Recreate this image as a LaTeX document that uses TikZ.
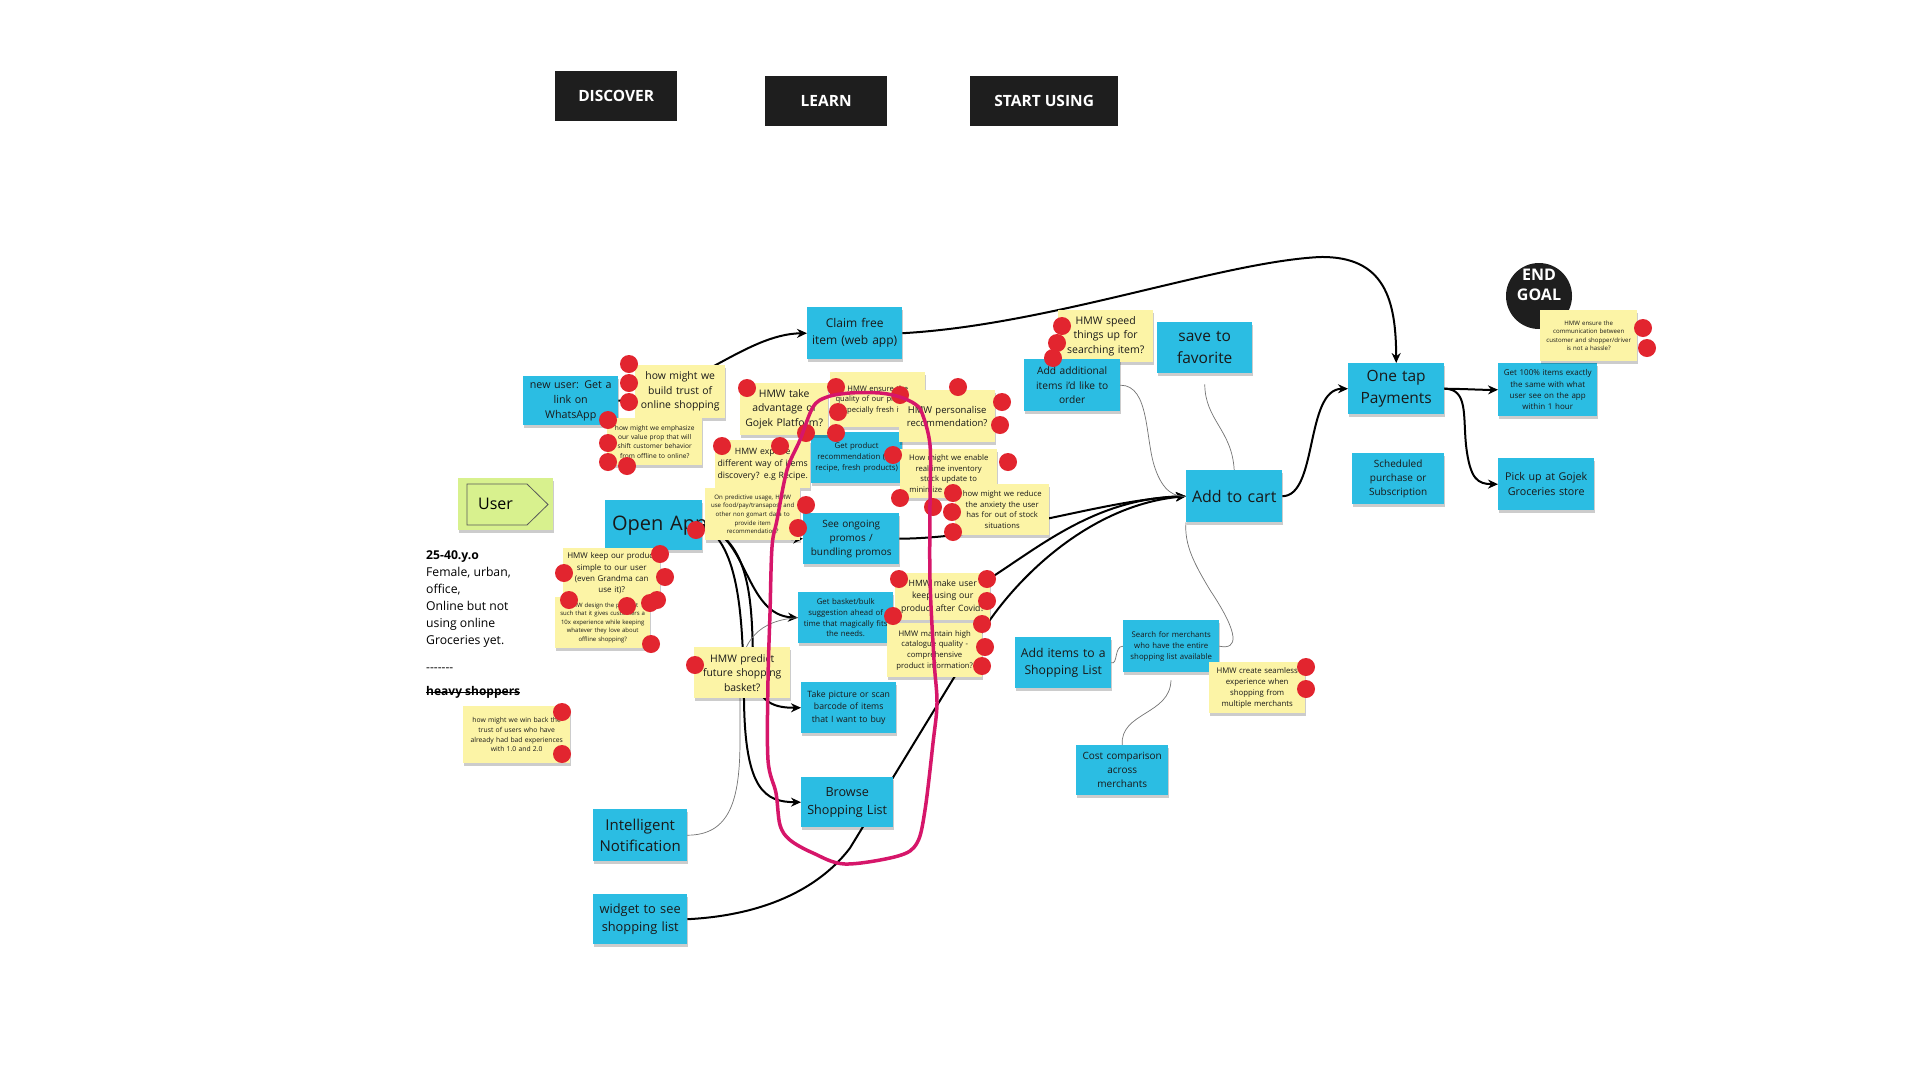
\documentclass[tikz,border=0pt]{standalone}
\usepackage{fontspec}
\setmainfont{Open Sans}
\usetikzlibrary{arrows.meta,shadows}
\definecolor{stblue}{HTML}{2BBDE3}
\definecolor{styel}{HTML}{FCF4A6}
\definecolor{usergreen}{HTML}{D8F18E}
\definecolor{dotred}{HTML}{E2252F}
\definecolor{loopink}{HTML}{D6166A}
\definecolor{hdrblack}{HTML}{1E1E1E}
\pgfdeclarelayer{bg}
\pgfdeclarelayer{back}
\pgfsetlayers{bg,back,main}
\newcommand\fz[1]{\fontsize{#1}{\fpeval{1.4*#1}}\selectfont}
\newcommand\stick[8]{%
  \pgfmathsetmacro\stw{#5-#3}%
  \pgfmathsetmacro\sth{#6-#4}%
  \pgfmathsetmacro\sttw{#5-#3-4}%
  \node[#2,minimum width=\stw pt,minimum height=\sth pt,text width=\sttw pt,anchor=north west,font=\fz{#7}] (#1) at (#3,#4) {#8};}
\tikzset{
  nshadow/.style={drop shadow={shadow xshift=0.5pt,shadow yshift=-3pt,opacity=0.2,fill=black}},
  bnote/.style={fill=stblue,align=center,inner xsep=2pt,inner ysep=0pt,text=black!90,nshadow},
  ynote/.style={fill=styel,align=center,inner xsep=2pt,inner ysep=0pt,text=black!90,nshadow},
  hdr/.style={fill=hdrblack,text=white,font=\fz{15.5}\bfseries,anchor=north west,inner sep=0pt},
  conn/.style={draw=black,line width=2pt,-{Stealth[length=10pt,width=9pt]}},
  thinlink/.style={draw=black!55,line width=0.7pt},
  rdot/.style={fill=dotred},
  loopline/.style={draw=loopink,line width=3.5pt,line join=round}
}
\begin{document}
\begin{tikzpicture}[x=1pt,y=-1pt]
\begin{pgfonlayer}{bg}
\fill[white] (0,0) rectangle (1920,1080);
\end{pgfonlayer}
\useasboundingbox (0,0) rectangle (1920,1080);

% headers
\node[hdr,minimum width=122pt,minimum height=50pt] (discover) at (555,71) {DISCOVER};
\node[hdr,minimum width=122pt,minimum height=50pt] (learn) at (765,76) {LEARN};
\node[hdr,minimum width=148pt,minimum height=50pt] (startusing) at (970,76) {START USING};

% persona
\node[fill=usergreen,minimum width=95pt,minimum height=52pt,anchor=north west,inner sep=0pt,nshadow] (userbox) at (458,478) {};
\draw[black!65,line width=0.8pt] (467,484) -- (527,484) -- (548,504.5) -- (527,525) -- (467,525) -- cycle;
\node[anchor=west,inner sep=0pt,font=\fz{16}] (usertxt) at (478,504) {User};
\node[anchor=north west,inner sep=0pt,align=left,font=\fz{12.2}] (persona) at (426,550) {\textbf{25-40.y.o}\\Female, urban,\\office,\\Online but not\\using online\\Groceries yet.};
\node[anchor=north west,inner sep=0pt,font=\fz{12}] (dashes) at (426,668) {{-}{-}{-}{-}{-}{-}{-}};
\node[anchor=north west,inner sep=0pt,font=\fz{12}\bfseries] (heavy) at (426,686) {heavy shoppers};
\draw[line width=1pt] (heavy.west) -- (heavy.east);

% blue notes
\stick{claim}{bnote}{807}{307}{902}{359}{12}{Claim free\\item (web app)}
\stick{openapp}{bnote}{605}{500}{702}{550}{20}{\makebox[0pt][c]{\hspace*{12pt}Open App}}
\stick{getprod}{bnote}{811}{432}{902}{483}{7.8}{Get product\\recommendation (e.g\\recipe, fresh products)}
\stick{see}{bnote}{803}{513}{899}{564}{10}{See ongoing\\promos /\\bundling promos}
\stick{basket}{bnote}{798}{592}{893}{643}{7.8}{Get basket/bulk\\suggestion ahead of\\time that magically fits\\the needs.}
\stick{take}{bnote}{801}{682}{896}{733}{8.7}{Take picture or scan\\barcode of items\\that I want to buy}
\stick{browse}{bnote}{801}{777}{893}{827}{12.6}{Browse\\Shopping List}
\stick{intel}{bnote}{593}{809}{687}{861}{15}{Intelligent\\Notification}
\stick{widget}{bnote}{593}{894}{687}{944}{12.8}{widget to see\\shopping list}
\stick{y15}{ynote}{1058}{310}{1153}{362}{10.5}{HMW speed\\things up for\\searching item?}
\stick{additems}{bnote}{1024}{359}{1120}{411}{10.2}{Add additional\\items i'd like to\\order}
\stick{save}{bnote}{1157}{322}{1252}{373}{15.5}{save to\\favorite}
\stick{addcart}{bnote}{1186}{470}{1282}{522}{16}{Add to cart}
\stick{addlist}{bnote}{1015}{637}{1111}{688}{12.2}{Add items to a\\Shopping List}
\stick{search}{bnote}{1123}{620}{1219}{672}{7.8}{Search for merchants\\who have the entire\\shopping list available}
\stick{cost}{bnote}{1076}{745}{1168}{795}{10}{Cost comparison\\across\\merchants}
\stick{onetap}{bnote}{1348}{363}{1444}{414}{15.5}{One tap\\Payments}
\stick{sched}{bnote}{1352}{453}{1444}{504}{10}{Scheduled\\purchase or\\Subscription}
\stick{get100}{bnote}{1498}{363}{1597}{416}{8}{Get 100\% items exactly\\the same with what\\user see on the app\\within 1 hour}
\stick{pickup}{bnote}{1498}{458}{1594}{510}{10.7}{Pick up at Gojek\\Groceries store}
\stick{newuser}{bnote}{523}{376}{618}{425}{10.7}{new user: Get a\\link on\\WhatsApp}

% connectors behind the notes
\begin{pgfonlayer}{back}
\draw[conn] (newuser.east) .. controls (690,395) and (745,334) .. (claim.west);
\draw[conn] (claim.east) .. controls (1050,325) and (1220,262) .. (1320,257) .. controls (1385,256) and (1396,300) .. (onetap.north);
\draw[conn] (openapp.east) .. controls (745,530) and (770,540) .. (see.west);
\draw[conn] (openapp.east) .. controls (748,535) and (745,615) .. (basket.west);
\draw[conn] (openapp.east) .. controls (750,540) and (752,600) .. (753,660) .. controls (754,700) and (770,708) .. (take.west);
\draw[conn] (openapp.east) .. controls (740,545) and (743,620) .. (744,700) .. controls (745,790) and (765,802) .. (browse.west);
\draw[conn] (see.east) .. controls (1000,538) and (1100,500) .. (addcart.west);
\draw[conn] (basket.east) .. controls (990,610) and (1050,500) .. (addcart.west);
\draw[conn] (widget.east) .. controls (770,915) and (822,885) .. (850,848) -- (980,635) .. controls (1015,578) and (1090,505) .. (addcart.west);
\draw[conn] (addcart.east) .. controls (1318,496) and (1305,389) .. (onetap.west);
\draw[conn] (onetap.east) .. controls (1470,389) and (1480,390) .. (get100.west);
\draw[conn] (onetap.east) .. controls (1468,389) and (1463,415) .. (1466,445) .. controls (1470,480) and (1478,484) .. (pickup.west);
\draw[thinlink] (additems.east) .. controls (1150,385) and (1145,440) .. (1155,468) .. controls (1163,492) and (1175,497) .. (addcart.west);
\draw[thinlink,shorten >=11pt] (addcart.north) .. controls (1232,430) and (1205,420) .. (save.south);
\draw[thinlink] (addcart.south west) .. controls (1184,545) and (1195,565) .. (1210,590) .. controls (1240,635) and (1238,650) .. (search.east);
\draw[thinlink] (addlist.east) .. controls (1118,665) and (1114,646) .. (search.west);
\draw[thinlink,shorten <=8pt] (search.south) .. controls (1170,715) and (1120,712) .. (cost.north);
\draw[thinlink] (intel.east) .. controls (730,835) and (740,800) .. (740,740) -- (740,680) .. controls (740,640) and (760,620) .. (basket.west);
\end{pgfonlayer}

% yellow notes
\stick{y1}{ynote}{635}{365}{725}{418}{10.4}{how might we\\build trust of\\online shopping}
\stick{y2}{ynote}{607}{418}{702}{465}{6.6}{how might we emphasize\\our value prop that will\\shift customer behavior\\from offline to online?}
\stick{y3}{ynote}{740}{383}{828}{435}{10.4}{HMW take\\advantage of\\Gojek Platform?}
\stick{y4}{ynote}{830}{372}{925}{427}{7.6}{HMW ensure the\\quality of our products,\\especially fresh items}
\stick{y5}{ynote}{899}{390}{995}{442}{9.5}{HMW personalise\\recommendation?}
\stick{y6}{ynote}{715}{440}{810}{488}{8.7}{HMW explore\\different way of items\\discovery? e.g Recipe.}
\stick{y7}{ynote}{705}{488}{800}{540}{6.1}{On predictive usage, HMW\\use food/pay/transapost and\\other non gomart data to\\provide item\\recommendation?}
\stick{y8}{ynote}{900}{449}{997}{498}{7.7}{How might we enable\\realtime inventory\\stock update to\\minimize out of stock}
\stick{y9}{ynote}{955}{484}{1049}{535}{7.7}{how might we reduce\\the anxiety the user\\has for out of stock\\situations}
\stick{y10}{ynote}{563}{548}{660}{598}{8}{HMW keep our product\\simple to our user\\(even Grandma can\\use it)?}
\stick{y11}{ynote}{555}{597}{650}{648}{6}{HMW design the product\\such that it gives customers a\\10x experience while keeping\\whatever they love about\\offline shopping?}
\stick{y12}{ynote}{694}{647}{790}{698}{10.4}{HMW predict\\future shopping\\basket?}
\stick{y13}{ynote}{895}{573}{990}{620}{8.7}{HMW make user\\keep using our\\product after Covid?}
\stick{y14}{ynote}{887}{623}{982}{677}{7.7}{HMW maintain high\\catalogue quality -\\comprehensive\\product information?}
\stick{y16}{ynote}{1209}{662}{1305}{713}{7.8}{HMW create seamless\\experience when\\shopping from\\multiple merchants}
\node[circle,fill=hdrblack,minimum size=66pt,inner sep=0pt] (endgoal) at (1539,296) {};
\node[text=white,align=center,inner sep=0pt,font=\fontsize{16}{20}\selectfont\bfseries] (endtxt) at (1539,285) {END\\GOAL};
\stick{y17}{ynote}{1540}{310}{1637}{361}{6.1}{HMW ensure the\\communication between\\customer and shopper/driver\\is not a hassle?}
\stick{y18}{ynote}{463}{706}{570}{763}{6.8}{how might we win back the\\trust of users who have\\already had bad experiences\\with 1.0 and 2.0}

% red voting dots
\foreach \px/\py in {629/364,629/383,629/402,608/420,608/443,608/462,627/466,722/446,696/530,
  747/388,836/387,838/412,836/433,806/433,900/395,958/387,1002/402,1000/425,780/446,893/455,
  1008/462,900/498,933/507,953/493,952/512,953/532,806/505,798/528,
  660/554,665/577,564/573,569/600,657/600,650/603,627/606,651/644,695/665,
  899/579,987/579,987/601,893/616,982/624,985/647,982/666,
  1062/326,1057/343,1053/358,1306/667,1306/689,1643/328,1647/348,562/712,562/754}
  \fill[rdot] (\px,\py) circle[radius=9pt];

% pink loop
\draw[loopline] plot[smooth cycle,tension=0.55] coordinates {(922,413) (930,445) (930,500) (930,580) (934,660) (937,703) (933,743) (925,810) (917,843) (898,856) (845,864) (813,853) (790,840) (780,825) (776,793) (768,760) (768,680) (770,613) (772,547) (777,520) (787,470) (800,440) (813,407) (827,397) (850,393) (880,393) (900,397) (915,404)};
\end{tikzpicture}
\end{document}
